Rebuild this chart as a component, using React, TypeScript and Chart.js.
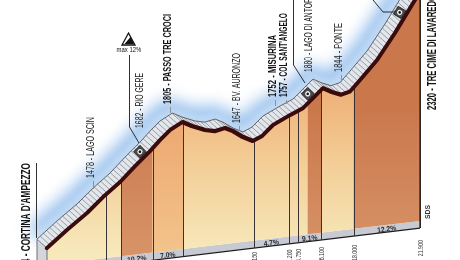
import React, { useEffect, useRef } from "react";
import { Chart, registerables } from "chart.js";

Chart.register(...registerables);

// ---- data ----
const distanceKm = [0, 1.17, 2.35, 3.29, 4.29, 5.17, 6.05, 6.63, 7.22, 7.95, 8.51, 9.28, 9.86, 10.45, 10.92, 11.51, 12.09, 12.62, 13.27, 14.27, 15.03, 15.56, 16.2, 16.73, 17.26, 17.79, 18.38, 19.38, 20.43, 21.6, 21.9];
const elevationM = [1224, 1307, 1384, 1458, 1527, 1602, 1672, 1724, 1771, 1805, 1776, 1744, 1730, 1739, 1716, 1676, 1647, 1666, 1718, 1759, 1787, 1829, 1880, 1852, 1830, 1840, 1895, 1991, 2124, 2288, 2320];

const segmentBreaksKm = [0, 3.45, 4.35, 6.2, 8.0, 12.15, 14.2, 14.75, 15.3, 16.1, 18.0, 21.9];
const segmentTones = ["cream", "cream", "brown", "peach", "cream", "cream", "cream", "cream", "brown", "cream", "brown"];
const dividerKm = [3.45, 4.35, 6.2, 8.0, 12.15, 14.2, 14.75, 16.1, 18.0, 21.9];

const distanceTickKm = [12.15, 14.2, 14.75, 16.1, 18.0, 21.9];
const distanceTickLabels = ["12.150", "14.200", "14.750", "16.100", "18.000", "21.900"];

const gradeFromKm = [4.35, 6.2, 12.15, 14.75, 18.0];
const gradeToKm = [6.2, 8.0, 14.2, 16.1, 21.9];
const gradeLabels = ["10.2%", "7.0%", "4.7%", "9.1%", "12.2%"];

const placeNames = [
  "1224 - CORTINA D'AMPEZZO",
  "1478 - LAGO SCIN",
  "1682 - RIO GERE",
  "1805 - PASSO TRE CROCI",
  "1647 - BV. AURONZO",
  "1752 - MISURINA",
  "1757 - COL SANT'ANGELO",
  "1880 - LAGO DI ANTORNO",
  "1844 - PONTE",
  "2320 - TRE CIME DI LAVAREDO",
];
// layout of the vertical place labels: column x, bottom y, top y, bold, font size
const placeX = [26, 91, 140, 168, 237, 273, 284, 309, 339, 432];
const placeBottom = [277, 178, 128, 104, 123, 97, 97, 72, 72, 110];
const placeTop = [163, 117, 73, 14, 53, 35, 13, -12, 23, -5];
const placeBold = [true, false, false, true, false, true, true, false, false, true];
const placeSize = [13, 10, 10, 11, 10, 10, 10, 10, 10, 13.5];

const markerKm = [5.75, 15.6, 21.0];
const maxGradeText = "max 12%";

// ---- drawing constants ----
const SHEAR = 0.1435;
const ROOF_DX = -10;
const ROOF_DY = -9;

function elevAt(k: number) {
  if (k <= distanceKm[0]) return elevationM[0];
  for (let i = 1; i < distanceKm.length; i++) {
    if (k <= distanceKm[i]) {
      const t = (k - distanceKm[i - 1]) / (distanceKm[i] - distanceKm[i - 1]);
      return elevationM[i - 1] + t * (elevationM[i] - elevationM[i - 1]);
    }
  }
  return elevationM[elevationM.length - 1];
}

function geom(chart: any) {
  const xs = chart.scales.x;
  const ys = chart.scales.y;
  const x0 = xs.getPixelForValue(distanceKm[0]);
  const xEnd = xs.getPixelForValue(distanceKm[distanceKm.length - 1]);
  const scr = (k: number) => {
    const px = xs.getPixelForValue(k);
    return { x: px, y: ys.getPixelForValue(elevAt(k)) - SHEAR * (px - x0) };
  };
  const baseTop = (x: number) => 265 - 0.118 * (x - x0);
  const baseBot = (x: number) => 273 - 0.1205 * (x - x0);
  return { xs, ys, x0, xEnd, scr, baseTop, baseBot };
}

function vText(ctx: CanvasRenderingContext2D, text: string, x: number, yBottom: number, yTop: number, font: string, color: string) {
  ctx.save();
  ctx.font = font;
  const w = ctx.measureText(text).width;
  ctx.translate(x, yBottom);
  ctx.rotate(-Math.PI / 2);
  ctx.scale((yBottom - yTop) / w, 1);
  ctx.textBaseline = "middle";
  ctx.textAlign = "left";
  ctx.fillStyle = color;
  ctx.fillText(text, 0, 0);
  ctx.restore();
}

function polyline(ctx: CanvasRenderingContext2D, pts: { x: number; y: number }[]) {
  pts.forEach((p, i) => (i ? ctx.lineTo(p.x, p.y) : ctx.moveTo(p.x, p.y)));
}

const profilePlugin = {
  id: "profile3d",
  beforeDatasetsDraw(chart: any) {
    const ctx: CanvasRenderingContext2D = chart.ctx;
    const { x0, xEnd, scr, baseTop, baseBot } = geom(chart);
    const pts = distanceKm.map((k) => scr(k));
    const roofPts = pts.map((p) => ({ x: p.x + ROOF_DX, y: p.y + ROOF_DY }));

    // haze above the roof
    ctx.save();
    ctx.filter = "blur(8px)";
    ctx.strokeStyle = "rgba(140,185,235,0.95)";
    ctx.lineWidth = 18;
    ctx.beginPath();
    polyline(ctx, roofPts.map((p) => ({ x: p.x - 3, y: p.y - 5 })));
    ctx.stroke();
    ctx.filter = "blur(3px)";
    ctx.strokeStyle = "rgba(200,222,245,0.9)";
    ctx.lineWidth = 6;
    ctx.beginPath();
    polyline(ctx, roofPts.map((p) => ({ x: p.x - 1, y: p.y - 2 })));
    ctx.stroke();
    ctx.restore();

    // base band
    ctx.save();
    ctx.beginPath();
    ctx.moveTo(x0, baseTop(x0));
    ctx.lineTo(xEnd, baseTop(xEnd));
    ctx.lineTo(xEnd, baseBot(xEnd));
    ctx.lineTo(x0, baseBot(x0));
    ctx.closePath();
    ctx.fillStyle = "#c7cad2";
    ctx.fill();
    ctx.beginPath();
    ctx.moveTo(x0, baseBot(x0));
    ctx.lineTo(xEnd, baseBot(xEnd));
    ctx.strokeStyle = "#1c1c1c";
    ctx.lineWidth = 1.2;
    ctx.stroke();
    ctx.restore();

    // coloured segments
    const grad = (stops: [number, string][]) => {
      const g = ctx.createLinearGradient(0, 100, 0, 255);
      stops.forEach(([o, c]) => g.addColorStop(o, c));
      return g;
    };
    const tones: Record<string, CanvasGradient> = {
      cream: grad([[0, "#efb47c"], [0.4, "#f3cd96"], [1, "#f7e9bc"]]),
      peach: grad([[0, "#eca46c"], [1, "#f2c48c"]]),
      brown: grad([[0, "#c9774b"], [1, "#d79367"]]),
    };
    for (let s = 0; s < segmentTones.length; s++) {
      const a = segmentBreaksKm[s];
      const b = segmentBreaksKm[s + 1];
      const poly = [scr(a)];
      distanceKm.forEach((k) => {
        if (k > a && k < b) poly.push(scr(k));
      });
      poly.push(scr(b));
      const xa = poly[0].x;
      const xb = poly[poly.length - 1].x;
      ctx.beginPath();
      polyline(ctx, poly);
      ctx.lineTo(xb, baseTop(xb));
      ctx.lineTo(xa, baseTop(xa));
      ctx.closePath();
      ctx.fillStyle = tones[segmentTones[s]];
      ctx.fill();
    }

    // dividers
    ctx.save();
    ctx.strokeStyle = "#3a3232";
    ctx.lineWidth = 1;
    dividerKm.forEach((k) => {
      const p = scr(k);
      const x = Math.round(p.x) + 0.5;
      ctx.beginPath();
      ctx.moveTo(x, p.y);
      ctx.lineTo(x, baseBot(p.x));
      ctx.stroke();
    });
    ctx.restore();

    // grade labels in the base band
    ctx.save();
    const ang = Math.atan(-0.118);
    for (let i = 0; i < gradeLabels.length; i++) {
      const xm = (scr(gradeFromKm[i]).x + scr(gradeToKm[i]).x) / 2;
      const ym = (baseTop(xm) + baseBot(xm)) / 2 + 1;
      ctx.save();
      ctx.translate(xm, ym);
      ctx.rotate(ang);
      ctx.scale(0.9, 1);
      ctx.font = 'bold 7.5px "Liberation Sans", Arial, sans-serif';
      ctx.fillStyle = "#2a2a33";
      ctx.textAlign = "center";
      ctx.textBaseline = "middle";
      ctx.fillText(gradeLabels[i], 0, 0);
      ctx.restore();
    }
    ctx.restore();

    // left side face of the roof
    ctx.save();
    const p0 = pts[0];
    const r0 = roofPts[0];
    ctx.beginPath();
    ctx.moveTo(r0.x, r0.y);
    ctx.lineTo(p0.x, p0.y);
    ctx.lineTo(p0.x, 262);
    ctx.lineTo(r0.x, 262);
    ctx.closePath();
    ctx.fillStyle = "#d3d6dc";
    ctx.fill();
    ctx.strokeStyle = "#6a6f77";
    ctx.lineWidth = 1;
    ctx.stroke();
    ctx.restore();

    // roof band
    ctx.save();
    ctx.beginPath();
    polyline(ctx, pts);
    for (let i = roofPts.length - 1; i >= 0; i--) ctx.lineTo(roofPts[i].x, roofPts[i].y);
    ctx.closePath();
    ctx.fillStyle = "#e3e6ea";
    ctx.fill();
    ctx.beginPath();
    let acc = 0;
    const step = 4.3;
    for (let i = 1; i < pts.length; i++) {
      const a = pts[i - 1];
      const b = pts[i];
      const L = Math.hypot(b.x - a.x, b.y - a.y);
      while (acc <= L) {
        const t = acc / L;
        const x = a.x + (b.x - a.x) * t;
        const y = a.y + (b.y - a.y) * t;
        ctx.moveTo(x, y);
        ctx.lineTo(x + ROOF_DX, y + ROOF_DY);
        acc += step;
      }
      acc -= L;
    }
    ctx.strokeStyle = "#878d95";
    ctx.lineWidth = 0.8;
    ctx.stroke();
    ctx.beginPath();
    polyline(ctx, roofPts);
    ctx.strokeStyle = "#5f656d";
    ctx.lineWidth = 1;
    ctx.stroke();
    ctx.restore();

    // shear the library-drawn profile line
    ctx.save();
    ctx.transform(1, -SHEAR, 0, 1, 0, SHEAR * x0);
  },
  afterDatasetsDraw(chart: any) {
    const ctx: CanvasRenderingContext2D = chart.ctx;
    ctx.restore();
    const { xEnd, scr, baseBot } = geom(chart);

    // leader lines
    ctx.save();
    ctx.strokeStyle = "#1a1a1a";
    ctx.lineWidth = 0.9;
    const leaders = [
      [[36.5, 163], [36.5, 238]],
      [[129.5, 55], [129.5, 127], [139, 143]],
      [[293.5, 0], [293.5, 65], [305, 83]],
      [[373, 0], [383, 12], [396, 12]],
    ];
    leaders.forEach((l) => {
      ctx.beginPath();
      l.forEach(([x, y], i) => (i ? ctx.lineTo(x, y) : ctx.moveTo(x, y)));
      ctx.stroke();
    });
    // short ticks below labels
    ctx.strokeStyle = "#8a8a8a";
    const ticks = [[93, 181, 189], [170, 107, 113], [239, 126, 131], [275, 100, 106], [286, 100, 104], [341, 75, 82]];
    ticks.forEach(([x, a, b]) => {
      ctx.beginPath();
      ctx.moveTo(x + 0.5, a);
      ctx.lineTo(x + 0.5, b);
      ctx.stroke();
    });
    // right edge
    ctx.strokeStyle = "#2a1f1f";
    ctx.lineWidth = 1.3;
    const pe = scr(distanceKm[distanceKm.length - 1]);
    ctx.beginPath();
    ctx.moveTo(xEnd, pe.y);
    ctx.lineTo(xEnd, baseBot(xEnd));
    ctx.stroke();
    ctx.restore();

    // markers on the roof
    markerKm.forEach((k) => {
      const p = scr(k);
      const q = scr(k + 0.2);
      const ang = Math.atan2(q.y - p.y, q.x - p.x);
      const cx = p.x + ROOF_DX * 0.5;
      const cy = p.y + ROOF_DY * 0.5;
      ctx.save();
      ctx.translate(cx, cy);
      ctx.rotate(ang);
      ctx.fillStyle = "#4b4b4f";
      ctx.strokeStyle = "#1d1d1d";
      ctx.lineWidth = 0.8;
      ctx.fillRect(-4.5, -4.5, 9, 9);
      ctx.strokeRect(-4.5, -4.5, 9, 9);
      ctx.beginPath();
      ctx.arc(0, 0, 2.6, 0, Math.PI * 2);
      ctx.fillStyle = "#f2f2f2";
      ctx.fill();
      ctx.beginPath();
      ctx.arc(0, 0, 1.3, 0, Math.PI * 2);
      ctx.fillStyle = "#111";
      ctx.fill();
      ctx.restore();
    });

    // max gradient icon
    ctx.save();
    ctx.beginPath();
    ctx.moveTo(128.5, 33);
    ctx.lineTo(135, 45);
    ctx.lineTo(122, 45);
    ctx.closePath();
    ctx.fillStyle = "#fff";
    ctx.fill();
    ctx.strokeStyle = "#111";
    ctx.lineWidth = 1.3;
    ctx.stroke();
    ctx.beginPath();
    ctx.moveTo(130.5, 37);
    ctx.lineTo(134, 44);
    ctx.lineTo(124.5, 44);
    ctx.closePath();
    ctx.fillStyle = "#111";
    ctx.fill();
    ctx.font = '7px "Liberation Sans", Arial, sans-serif';
    ctx.fillStyle = "#111";
    ctx.textAlign = "center";
    ctx.textBaseline = "middle";
    ctx.save();
    ctx.translate(129, 50.5);
    ctx.scale(0.85, 1);
    ctx.fillText(maxGradeText, 0, 0);
    ctx.restore();
    ctx.restore();

    // place labels
    for (let i = 0; i < placeNames.length; i++) {
      const font = `${placeBold[i] ? "bold " : ""}${placeSize[i]}px "Liberation Sans", Arial, sans-serif`;
      vText(ctx, placeNames[i], placeX[i], placeBottom[i], placeTop[i], font, placeBold[i] ? "#111" : "#222");
    }

    // distance labels (rotated, ending at the top)
    for (let i = 0; i < distanceTickKm.length; i++) {
      const x = scr(distanceTickKm[i]).x;
      const yTop = 240 + 0.0714 * (xEnd + 2 - x);
      ctx.save();
      ctx.translate(x + 1, yTop);
      ctx.rotate(-Math.PI / 2);
      ctx.scale(0.75, 1);
      ctx.font = '7px "Liberation Sans", Arial, sans-serif';
      ctx.fillStyle = "#333";
      ctx.textAlign = "right";
      ctx.textBaseline = "middle";
      ctx.fillText(distanceTickLabels[i], 0, 0);
      ctx.restore();
    }

    // SDS mark
    vText(ctx, "SDS", 428, 219, 205, 'bold 7px "Liberation Sans", Arial, sans-serif', "#333");
  },
};

export default function App() {
  const ref = useRef<HTMLCanvasElement>(null);
  useEffect(() => {
    const prev = document.body.style.margin;
    document.body.style.margin = "0";
    const pxPerKm = 373 / 21.9;
    const xMin = -47 / pxPerKm;
    const xMax = 21.9 + 40 / pxPerKm;
    const yMax = 472.7 / 0.1835;
    const yMin = yMax - 260 / 0.1835;
    const points = distanceKm.map((k, i) => ({ x: k, y: elevationM[i] }));
    const chart = new Chart(ref.current as HTMLCanvasElement, {
      type: "line",
      data: {
        datasets: [
          { data: points, borderColor: "#3b0b0c", borderWidth: 4.2, pointRadius: 0, tension: 0, clip: false as any, fill: false, borderJoinStyle: "round", borderCapStyle: "round" },
          { data: points, borderColor: "#9e1d24", borderWidth: 2, pointRadius: 0, tension: 0, clip: false as any, fill: false, borderJoinStyle: "round", borderCapStyle: "round" },
        ],
      },
      options: {
        responsive: false,
        animation: false,
        events: [],
        layout: { padding: 0 },
        plugins: { legend: { display: false }, tooltip: { enabled: false } },
        scales: {
          x: { type: "linear", min: xMin, max: xMax, display: false },
          y: { type: "linear", min: yMin, max: yMax, display: false },
        },
      },
      plugins: [profilePlugin as any],
    });
    return () => {
      chart.destroy();
      document.body.style.margin = prev;
    };
  }, []);
  return (
    <div style={{ position: "fixed", left: 0, top: 0, width: 460, height: 260, background: "#fff" }}>
      <canvas ref={ref} width={460} height={260} style={{ display: "block", width: 460, height: 260 }} />
    </div>
  );
}
